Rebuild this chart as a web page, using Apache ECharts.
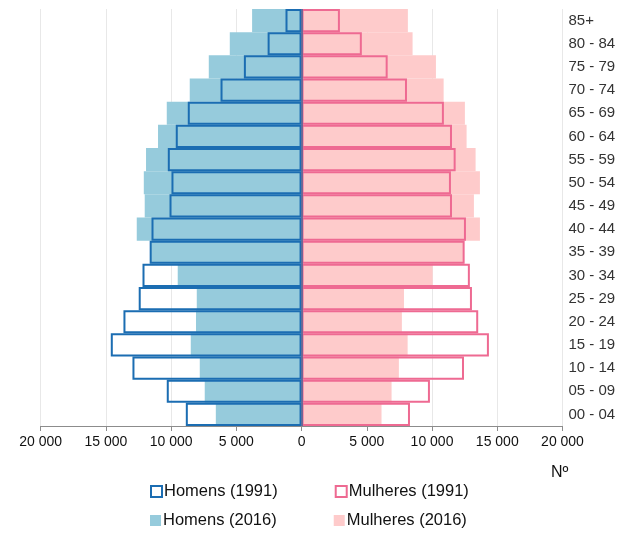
<!DOCTYPE html>
<html><head><meta charset="utf-8">
<script src="https://cdn.jsdelivr.net/npm/echarts@6/dist/echarts.min.js"></script>
<style>html,body{margin:0;padding:0;background:#fff}#c{width:640px;height:536px}</style>
</head><body><div id="c"></div>
<script>
var categories = ['00 - 04','05 - 09','10 - 14','15 - 19','20 - 24','25 - 29','30 - 34','35 - 39','40 - 44','45 - 49','50 - 54','55 - 59','60 - 64','65 - 69','70 - 74','75 - 79','80 - 84','85+'];
var homens1991 = [8870,10330,12960,14620,13650,12480,12190,11640,11500,10120,9970,10250,9640,8720,6210,4420,2600,1230];
var mulheres1991 = [8310,9840,12450,14360,13540,13060,12900,12500,12600,11530,11450,11810,11530,10910,8080,6600,4620,2940];
var homens2016 = [6570,7420,7800,8490,8090,8030,9490,11600,12630,12020,12090,11920,11000,10330,8570,7110,5500,3790];
var mulheres2016 = [6130,6900,7460,8130,7690,7850,10050,12450,13670,13210,13670,13340,12650,12520,10890,10300,8510,8150];
var xTicks = [-20000,-15000,-10000,-5000,0,5000,10000,15000,20000];

var neg = function(a){return a.map(function(v){return -v;});};
var font = 'Liberation Sans, Arial, sans-serif';
var chart = echarts.init(document.getElementById('c'));
chart.setOption({
  animation:false,
  grid:{left:40.6,right:77.5,top:9,bottom:110,containLabel:false},
  xAxis:{type:'value',min:xTicks[0],max:xTicks[xTicks.length-1],interval:5000,
    axisLine:{show:true,lineStyle:{color:'#8c8c8c'}},
    axisTick:{show:true,length:5,lineStyle:{color:'#8c8c8c'}},
    splitLine:{show:true,lineStyle:{color:'#e8e8e8'}},
    axisLabel:{color:'#111',fontFamily:font,fontSize:14,margin:9,
      formatter:function(v){var a=Math.abs(v);return a>=1000?(Math.floor(a/1000)+' '+String(a%1000).padStart(3,'0')):String(a);}}},
  yAxis:{type:'category',data:categories,position:'right',
    axisLine:{show:false},axisTick:{show:false},
    axisLabel:{color:'#333',fontFamily:font,fontSize:15,margin:6,align:'left'}},
  legend:[{top:478,left:145,itemWidth:11,itemHeight:11,itemGap:57,icon:'rect',
      textStyle:{fontFamily:font,fontSize:16.5,color:'#111',padding:[0,0,0,-3]},
      data:[{name:'Homens (1991)',itemStyle:{color:'#fff',borderColor:'#1B6DB2',borderWidth:2}},
            {name:'Mulheres (1991)',itemStyle:{color:'#fff',borderColor:'#EE6A92',borderWidth:2}}]},
    {top:507,left:145,itemWidth:11,itemHeight:11,itemGap:57,icon:'rect',
      textStyle:{fontFamily:font,fontSize:16.5,color:'#111',padding:[0,0,0,-3]},
      data:[{name:'Homens (2016)'},{name:'Mulheres (2016)'}]}],
  graphic:[{type:'text',left:551,top:465,style:{text:'Nº',font:'16px '+font,fill:'#111'}}],
  series:[
    {name:'Homens (2016)',type:'bar',data:neg(homens2016),barGap:'-100%',barCategoryGap:0,
      itemStyle:{color:'#96CBDC'},
      markLine:{silent:true,symbol:'none',label:{show:false},lineStyle:{color:'#4a6595',width:1.5,type:'solid'},data:[{xAxis:0}]}},
    {name:'Mulheres (2016)',type:'bar',data:mulheres2016,barGap:'-100%',barCategoryGap:0,
      itemStyle:{color:'#FECBCB'}},
    {name:'Homens (1991)',type:'bar',data:neg(homens1991),barGap:'-100%',barCategoryGap:0,
      itemStyle:{color:'rgba(0,0,0,0)',borderColor:'#1B6DB2',borderWidth:2}},
    {name:'Mulheres (1991)',type:'bar',data:mulheres1991,barGap:'-100%',barCategoryGap:0,
      itemStyle:{color:'rgba(0,0,0,0)',borderColor:'#EE6A92',borderWidth:2}}
  ]
});
</script></body></html>
